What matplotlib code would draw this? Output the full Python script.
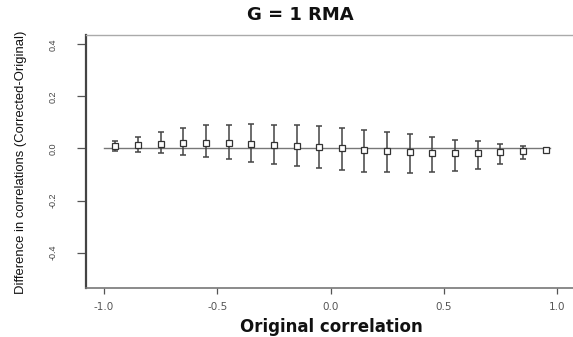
import matplotlib
matplotlib.use("Agg")
import matplotlib.pyplot as plt
import numpy as np

# Data
orig_corr = [-0.95, -0.85, -0.75, -0.65, -0.55, -0.45, -0.35, -0.25, -0.15, -0.05,
             0.05, 0.15, 0.25, 0.35, 0.45, 0.55, 0.65, 0.75, 0.85, 0.95]
mean_diff = [0.008, 0.013, 0.017, 0.021, 0.021, 0.021, 0.018, 0.015, 0.008, 0.004,
             0.001, -0.004, -0.009, -0.013, -0.016, -0.017, -0.016, -0.013, -0.009, -0.005]
upper = [0.028, 0.045, 0.063, 0.079, 0.089, 0.092, 0.094, 0.092, 0.090, 0.087,
         0.080, 0.071, 0.063, 0.054, 0.045, 0.034, 0.027, 0.018, 0.011, 0.001]
lower = [-0.008, -0.013, -0.018, -0.024, -0.032, -0.041, -0.051, -0.059, -0.068, -0.076,
         -0.082, -0.089, -0.091, -0.094, -0.091, -0.087, -0.077, -0.059, -0.040, -0.015]
x_ticks = [-1.0, -0.5, 0.0, 0.5, 1.0]
y_ticks = [-0.4, -0.2, 0.0, 0.2, 0.4]

x = np.array(orig_corr)
m = np.array(mean_diff)
yerr = np.vstack([m - np.array(lower), np.array(upper) - m])

fig = plt.figure(figsize=(5.73, 3.37), dpi=100)
ax = fig.add_axes([86/573, 49/337, 489/573, 253/337])

ax.plot([-1.0, 0.97], [0, 0], color="#777777", lw=1.0, zorder=1)
ax.errorbar(x, m, yerr=yerr, fmt="none", ecolor="#444444", elinewidth=1.1,
            capsize=2.2, capthick=1.1, zorder=2)
ax.plot(x, m, linestyle="none", marker="s", markersize=4.3, markerfacecolor="white",
        markeredgecolor="#333333", markeredgewidth=0.9, zorder=3)

ax.set_xlim(-1.08, 1.08)
ax.set_ylim(-0.536, 0.436)

ax.set_xticks(x_ticks)
ax.set_xticklabels([f"{v:.1f}" for v in x_ticks], fontsize=7.5, color="#555555",
                   family="DejaVu Sans")
ax.set_yticks(y_ticks)
ax.set_yticklabels([f"{v:.1f}" for v in y_ticks], fontsize=6.5, color="#444444",
                   rotation=90, va="center", family="Liberation Sans")
ax.tick_params(axis="x", length=4, width=0.9, color="#555555", pad=6)
ax.tick_params(axis="y", length=6.5, width=0.9, color="#555555", pad=14)

ax.spines["left"].set_color("#444444")
ax.spines["left"].set_linewidth(1.6)
ax.spines["bottom"].set_color("#777777")
ax.spines["bottom"].set_linewidth(1.2)
ax.spines["top"].set_color("#aaaaaa")
ax.spines["top"].set_linewidth(1.0)
ax.spines["right"].set_visible(False)

fig.text(300/573, 1 - 15/337, "G = 1 RMA", ha="center", va="center",
         fontsize=13, fontweight="bold", family="DejaVu Sans", color="#111111")
fig.text(331/573, 1 - 327/337, "Original correlation", ha="center", va="center",
         fontsize=12, fontweight="bold", family="DejaVu Sans", color="#111111")
fig.text(21/573, 1 - 162/337, "Difference in correlations (Corrected-Original)",
         ha="center", va="center", rotation=90, fontsize=9.4,
         family="Liberation Sans", color="#111111")

fig.savefig("out.png", dpi=100, facecolor="white")
